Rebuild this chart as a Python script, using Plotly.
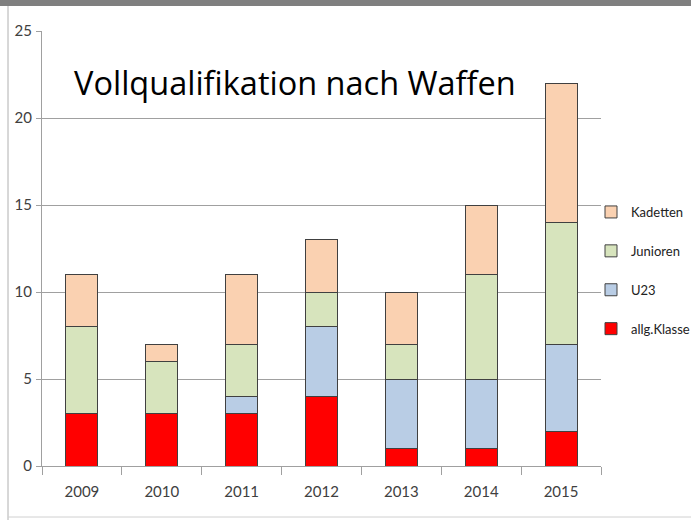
import plotly.graph_objects as go

years = ["2009", "2010", "2011", "2012", "2013", "2014", "2015"]
allg_klasse = [3, 3, 3, 4, 1, 1, 2]
u23 = [0, 0, 1, 4, 4, 4, 5]
junioren = [5, 3, 3, 2, 2, 6, 7]
kadetten = [3, 1, 4, 3, 3, 4, 8]

series = [
    ("allg.Klasse", allg_klasse, "#FF0000", 4),
    ("U23", u23, "#B9CDE5", 3),
    ("Junioren", junioren, "#D7E4BD", 2),
    ("Kadetten", kadetten, "#FAD1B1", 1),
]

font_narrow = "Lato, Roboto, sans-serif"

fig = go.Figure()
for name, vals, col, rank in series:
    fig.add_trace(go.Bar(
        x=years, y=vals, name=name, legendrank=rank, legendgroup=name,
        marker=dict(color=col, line=dict(color="#404040", width=1)),
        width=0.4,
    ))

L, R, T, B = 42, 90, 31, 54
W, H = 691, 520
pw = W - L - R
ph = H - T - B

def px(x):
    return (x - L) / pw

def py(y):
    return (H - B - y) / ph

fig.update_layout(
    width=W, height=H,
    margin=dict(l=L, r=R, t=T, b=B, autoexpand=False),
    barmode="stack",
    plot_bgcolor="white", paper_bgcolor="white",
    showlegend=True,
    legend=dict(
        xref="container", yref="container",
        x=591 / W, y=1 - 197 / H, xanchor="left", yanchor="top",
        traceorder="grouped", tracegroupgap=19, itemwidth=30,
        font=dict(family=font_narrow, size=13, color="#222222"),
        bgcolor="rgba(0,0,0,0)",
    ),
    xaxis=dict(
        showgrid=False, showline=True, linecolor="#A0A0A0", linewidth=1,
        ticks="outside", ticklen=8, tickcolor="#A0A0A0", tickson="boundaries",
        ticklabelstandoff=12,
        tickfont=dict(family=font_narrow, size=15, color="#404040"),
        range=[-0.5, 6.5],
    ),
    yaxis=dict(
        range=[0, 25], dtick=5, showgrid=True, gridcolor="#A0A0A0", gridwidth=1,
        showline=True, linecolor="#A0A0A0", linewidth=1,
        ticks="outside", ticklen=5, tickcolor="#A0A0A0",
        ticklabelstandoff=1,
        tickfont=dict(family=font_narrow, size=15, color="#404040"),
        zeroline=False,
    ),
    annotations=[dict(
        text="Vollqualifikation nach Waffen", x=px(72), y=py(82),
        xref="paper", yref="paper", xanchor="left", yanchor="middle",
        showarrow=False, font=dict(family="Open Sans, Noto Sans, sans-serif", size=32.5, color="#000000"),
    )],
    shapes=[
        dict(type="rect", xref="paper", yref="paper", x0=px(0), x1=px(W), y0=py(6), y1=py(0),
             fillcolor="#7F7F7F", line=dict(width=0), layer="above"),
        dict(type="line", xref="paper", yref="paper", x0=px(8), x1=px(8), y0=py(6), y1=py(520),
             line=dict(color="#B0B0B0", width=1)),
        dict(type="line", xref="paper", yref="paper", x0=px(8), x1=px(W), y0=py(517), y1=py(517),
             line=dict(color="#D0D0D0", width=1)),
    ],
)

fig.write_html("out.html", config={"displayModeBar": False},
               post_script="document.body.style.margin='0';")
